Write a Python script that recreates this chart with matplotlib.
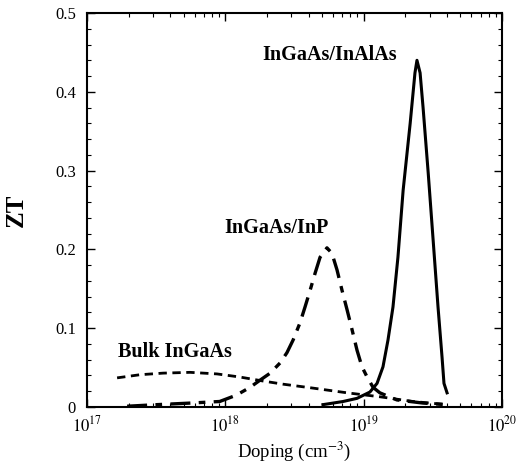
import numpy as np
import matplotlib
matplotlib.use("Agg")
import matplotlib.pyplot as plt
from matplotlib.ticker import LogLocator, MultipleLocator, NullFormatter

plt.rcParams['font.family'] = ['Liberation Serif', 'DejaVu Serif']
plt.rcParams['mathtext.fontset'] = 'stix'

# InGaAs/InAlAs (solid)
inalas_x = [5.08e18, 7.1e18, 8.96e18, 1.11e19, 1.25e19, 1.38e19, 1.50e19, 1.63e19, 1.77e19,
            1.93e19, 2.17e19, 2.35e19, 2.43e19, 2.56e19, 2.69e19, 2.93e19, 3.18e19, 3.45e19,
            3.69e19, 3.81e19, 4.01e19]
inalas_y = [0.003, 0.007, 0.011, 0.019, 0.030, 0.051, 0.085, 0.127, 0.19,
            0.275, 0.36, 0.424, 0.44, 0.424, 0.38, 0.297, 0.212, 0.127,
            0.063, 0.030, 0.018]

# InGaAs/InP (dash-dot)
inp_x = [1.95e17, 3.2e17, 5.6e17, 9.1e17, 1.2e18, 1.51e18, 1.78e18, 2.11e18, 2.49e18, 2.79e18,
         3.09e18, 3.47e18, 3.77e18, 4.1e18, 4.46e18, 4.84e18, 5.43e18, 5.9e18, 6.42e18, 6.98e18,
         7.6e18, 8.25e18, 8.96e18, 9.73e18, 1.06e19, 1.17e19, 1.31e19, 1.74e19, 2.69e19, 4.0e19]
inp_y = [0.001, 0.003, 0.005, 0.007, 0.015, 0.025, 0.034, 0.043, 0.056, 0.069,
         0.085, 0.107, 0.127, 0.148, 0.170, 0.190, 0.202, 0.195, 0.174, 0.148,
         0.123, 0.098, 0.072, 0.051, 0.038, 0.025, 0.018, 0.009, 0.005, 0.003]

# Bulk InGaAs (dashed)
bulk_x = [1.65e17, 2.42e17, 3.55e17, 5.56e17, 8.7e17, 1.28e18, 1.87e18, 2.61e18, 4.3e18,
          7.6e18, 1.31e19, 2.28e19, 4.0e19]
bulk_y = [0.037, 0.041, 0.043, 0.044, 0.042, 0.038, 0.033, 0.029, 0.024,
          0.018, 0.013, 0.007, 0.003]

xticks = [1e17, 1e18, 1e19, 1e20]
xticklabels = ['$10^{17}$', '$10^{18}$', '$10^{19}$', '$10^{20}$']
yticks = [0, 0.1, 0.2, 0.3, 0.4, 0.5]
yticklabels = ['0', '0.1', '0.2', '0.3', '0.4', '0.5']

fig = plt.figure(figsize=(5.18, 4.65), dpi=100)
ax = fig.add_axes([0.168, 0.1247, 0.801, 0.8473])

ax.plot(inalas_x, inalas_y, color='black', lw=2.2, ls='-')
ax.plot(inp_x, inp_y, color='black', lw=2.4, ls=(0, (6, 2.5, 2, 2.5)))
ax.plot(bulk_x, bulk_y, color='black', lw=2.0, ls=(0, (3, 2)))

ax.set_xscale('log')
ax.set_xlim(1e17, 1e20)
ax.set_ylim(0, 0.5)
ax.set_xticks(xticks)
ax.set_xticklabels(xticklabels, fontsize=12)
ax.set_yticks(yticks)
ax.set_yticklabels(yticklabels, fontsize=12)
ax.xaxis.set_minor_locator(LogLocator(base=10, subs=np.arange(2, 10)))
ax.xaxis.set_minor_formatter(NullFormatter())
ax.yaxis.set_minor_locator(MultipleLocator(0.02))
ax.tick_params(which='both', direction='in', top=True, right=True)
ax.tick_params(which='major', length=6, width=1)
ax.tick_params(which='minor', length=3, width=0.8)
ax.tick_params(axis='x', which='major', pad=6)
ax.tick_params(axis='y', which='major', pad=8)
for s in ax.spines.values():
    s.set_linewidth(1.5)

ax.set_xlabel('Doping (cm$^{-3}$)', fontsize=13.5, labelpad=3)
ax.set_ylabel('ZT', fontsize=18, fontweight='bold', labelpad=20)

ax.text(5.7e18, 0.447, 'InGaAs/InAlAs', fontsize=14.5, fontweight='bold', ha='center', va='center')
ax.text(2.33e18, 0.227, 'InGaAs/InP', fontsize=14.5, fontweight='bold', ha='center', va='center')
ax.text(4.3e17, 0.07, 'Bulk InGaAs', fontsize=14.5, fontweight='bold', ha='center', va='center')

fig.savefig('out.png', dpi=100)
